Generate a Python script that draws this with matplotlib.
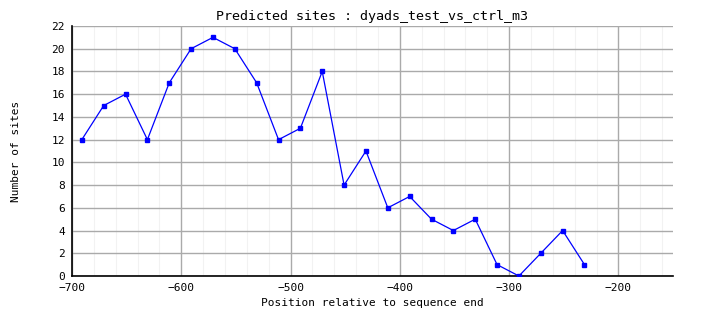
import matplotlib
matplotlib.use("Agg")
import matplotlib.pyplot as plt
from matplotlib.ticker import MultipleLocator

positions = [-691, -671, -651, -631, -611, -591, -571, -551, -531, -511, -491, -471,
             -451, -431, -411, -391, -371, -351, -331, -311, -291, -271, -251, -231]
sites = [12, 15, 16, 12, 17, 20, 21, 20, 17, 12, 13, 18,
         8, 11, 6, 7, 5, 4, 5, 1, 0, 2, 4, 1]
title = "Predicted sites : dyads_test_vs_ctrl_m3"
xlabel = "Position relative to sequence end"
ylabel = "Number of sites"

plt.rcParams['font.family'] = ['DejaVu Sans Mono']
fig = plt.figure(figsize=(7.04, 3.28), dpi=100)
ax = fig.add_axes([72/704, 52/328, 601/704, 250/328])
ax.plot(positions, sites, color='#0000ff', lw=0.9, marker='s', ms=2.4, zorder=3)
ax.set_xlim(-700, -150)
ax.set_ylim(0, 22)
ax.xaxis.set_major_locator(MultipleLocator(100))
ax.xaxis.set_minor_locator(MultipleLocator(20))
ax.yaxis.set_major_locator(MultipleLocator(2))
ax.grid(which='major', color='#aaaaaa', lw=1.0)
ax.grid(which='minor', axis='x', color='#f2f2f2', lw=0.8)
ax.set_axisbelow(True)
for s in ['top', 'right']:
    ax.spines[s].set_visible(False)
for s in ['left', 'bottom']:
    ax.spines[s].set_color('black')
    ax.spines[s].set_linewidth(1.2)
ax.tick_params(which='both', length=0, labelsize=8, pad=5)
ax.set_title(title, fontsize=9.6, pad=4)
ax.set_xlabel(xlabel, fontsize=8, labelpad=4)
ax.set_ylabel(ylabel, fontsize=8, labelpad=22)
fig.savefig("out.png", dpi=100)
